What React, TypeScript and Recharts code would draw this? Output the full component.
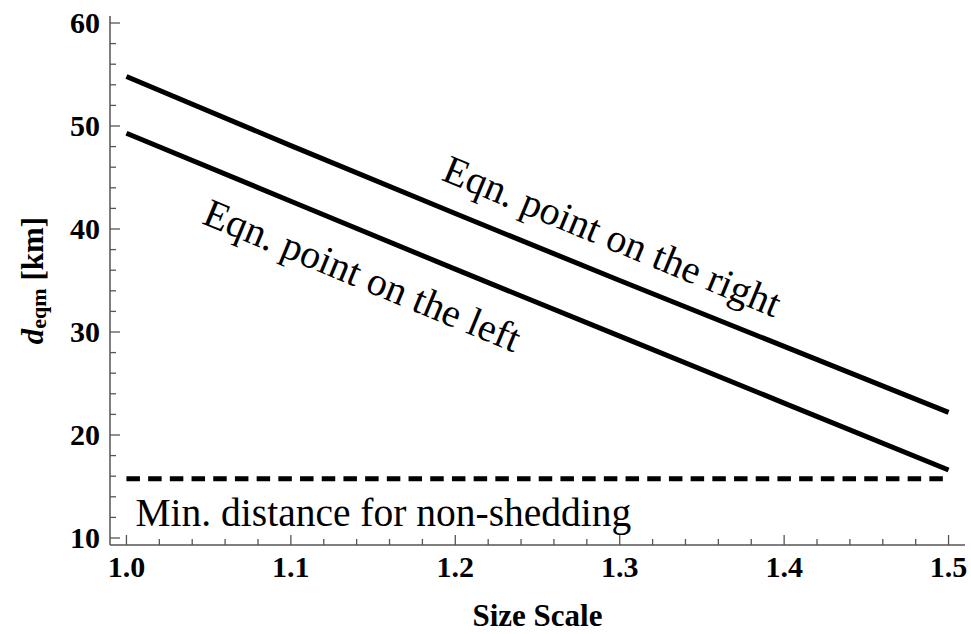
import React from 'react'
import {
  ComposedChart,
  Line,
  XAxis,
  YAxis,
  ReferenceDot,
} from 'recharts'

const sizeScale = [1.0, 1.1, 1.2, 1.3, 1.4, 1.5]
const eqmRight = [54.8, 48.1, 41.5, 35.0, 28.6, 22.2]
const eqmLeft = [49.3, 42.7, 36.1, 29.6, 23.1, 16.6]
const minDistance = [15.75, 15.75, 15.75, 15.75, 15.75, 15.75]

const xTicks = [
  1.0, 1.02, 1.04, 1.06, 1.08, 1.1, 1.12, 1.14, 1.16, 1.18, 1.2, 1.22, 1.24, 1.26, 1.28,
  1.3, 1.32, 1.34, 1.36, 1.38, 1.4, 1.42, 1.44, 1.46, 1.48, 1.5,
]
const yTicks = [
  10, 12, 14, 16, 18, 20, 22, 24, 26, 28, 30, 32, 34, 36, 38, 40, 42, 44, 46, 48, 50, 52,
  54, 56, 58, 60,
]

const data = sizeScale.map((s, i) => ({
  size: s,
  right: eqmRight[i],
  left: eqmLeft[i],
  min: minDistance[i],
}))

const SERIF = "'Liberation Serif', 'Times New Roman', Times, 'DejaVu Serif', serif"
const FRAME = '#555'

const isMajor = (v: number, step: number) =>
  Math.abs(v / step - Math.round(v / step)) < 1e-6

const XTick = ({ x, y, payload, side }: any) => {
  const v = payload.value as number
  const major = isMajor(v, 0.1)
  const len = major ? 10 : 6
  const dir = side === 'bottom' ? -1 : 1
  return (
    <g>
      <line x1={x} y1={y} x2={x} y2={y + dir * len} stroke={FRAME} strokeWidth={1.3} />
      {side === 'bottom' && major && (
        <text
          x={x}
          y={y + 32}
          textAnchor="middle"
          style={{ fontFamily: SERIF, fontWeight: 'bold', fontSize: 30 }}
          fill="#000"
        >
          {v.toFixed(1)}
        </text>
      )}
    </g>
  )
}

const YTick = ({ x, y, payload, side }: any) => {
  const v = payload.value as number
  const major = isMajor(v, 10)
  const len = major ? 10 : 6
  const dir = side === 'left' ? 1 : -1
  return (
    <g>
      <line x1={x} y1={y} x2={x + dir * len} y2={y} stroke={FRAME} strokeWidth={1.3} />
      {side === 'left' && major && (
        <text
          x={x - 10}
          y={y + 10}
          textAnchor="end"
          style={{ fontFamily: SERIF, fontWeight: 'bold', fontSize: 30 }}
          fill="#000"
        >
          {v}
        </text>
      )}
    </g>
  )
}

const RotatedLabel = ({ viewBox, text, rot }: any) => {
  const cx = viewBox.x + viewBox.width / 2
  const cy = viewBox.y + viewBox.height / 2
  return (
    <g transform={`rotate(${rot}, ${cx}, ${cy})`}>
      <text
        x={cx}
        y={cy}
        textAnchor="middle"
        dominantBaseline="central"
        style={{ fontFamily: SERIF, fontSize: 40 }}
        fill="#000"
      >
        {text}
      </text>
    </g>
  )
}

const PlainLabel = ({ viewBox, text }: any) => (
  <text
    x={viewBox.x}
    y={viewBox.y}
    textAnchor="start"
    style={{ fontFamily: SERIF, fontSize: 39.5 }}
    fill="#000"
  >
    {text}
  </text>
)

const YLabel = ({ viewBox }: any) => {
  const cx = viewBox.x + 22
  const cy = viewBox.y + viewBox.height / 2
  return (
    <g transform={`rotate(-90, ${cx}, ${cy})`}>
      <text
        x={cx}
        y={cy}
        textAnchor="middle"
        dominantBaseline="central"
        style={{ fontFamily: SERIF, fontWeight: 'bold', fontSize: 31 }}
        fill="#000"
      >
        <tspan style={{ fontStyle: 'italic' }}>d</tspan>
        <tspan style={{ fontSize: 22 }} dy={6}>eqm</tspan>
        <tspan dy={-6}> [km]</tspan>
      </text>
    </g>
  )
}

const XLabel = ({ viewBox }: any) => (
  <text
    x={viewBox.x + viewBox.width / 2}
    y={viewBox.y + 81}
    textAnchor="middle"
    style={{ fontFamily: SERIF, fontWeight: 'bold', fontSize: 31 }}
    fill="#000"
  >
    Size Scale
  </text>
)

export default function App() {
  return (
    <div style={{ position: 'absolute', left: 0, top: 0, background: '#fff' }}>
      <ComposedChart
        width={971}
        height={634}
        data={data}
        margin={{ top: 16, right: 6, left: 10, bottom: 0 }}
      >
        <XAxis
          xAxisId="b"
          dataKey="size"
          type="number"
          domain={[0.99, 1.51]}
          allowDataOverflow
          ticks={xTicks}
          interval={0}
          height={89}
          tickSize={0}
          tickMargin={0}
          tickLine={false}
          axisLine={{ stroke: FRAME, strokeWidth: 1.5 }}
          tick={<XTick side="bottom" />}
          label={<XLabel />}
        />
        <XAxis
          xAxisId="t"
          orientation="top"
          dataKey="size"
          type="number"
          domain={[0.99, 1.51]}
          allowDataOverflow
          ticks={xTicks}
          interval={0}
          height={0}
          tickSize={0}
          tickMargin={0}
          tickLine={false}
          axisLine={{ stroke: FRAME, strokeWidth: 1.5 }}
          tick={<XTick side="top" />}
        />
        <YAxis
          yAxisId="l"
          type="number"
          domain={[9.32, 60.68]}
          allowDataOverflow
          ticks={yTicks}
          interval={0}
          width={100}
          tickSize={0}
          tickMargin={0}
          tickLine={false}
          axisLine={{ stroke: FRAME, strokeWidth: 1.5 }}
          tick={<YTick side="left" />}
          label={<YLabel />}
        />
        <YAxis
          yAxisId="r"
          orientation="right"
          type="number"
          domain={[9.32, 60.68]}
          allowDataOverflow
          ticks={yTicks}
          interval={0}
          width={0}
          tickSize={0}
          tickMargin={0}
          tickLine={false}
          axisLine={{ stroke: FRAME, strokeWidth: 1.5 }}
          tick={<YTick side="right" />}
        />
        <Line
          xAxisId="b"
          yAxisId="l"
          dataKey="right"
          type="linear"
          stroke="#000"
          strokeWidth={5}
          dot={false}
          isAnimationActive={false}
        />
        <Line
          xAxisId="b"
          yAxisId="l"
          dataKey="left"
          type="linear"
          stroke="#000"
          strokeWidth={5}
          dot={false}
          isAnimationActive={false}
        />
        <Line
          xAxisId="b"
          yAxisId="l"
          dataKey="min"
          type="linear"
          stroke="#000"
          strokeWidth={5}
          strokeDasharray="13.5 8.2"
          dot={false}
          isAnimationActive={false}
        />
        <ReferenceDot
          xAxisId="b"
          yAxisId="l"
          x={1.2955}
          y={39.3}
          r={0}
          fill="none"
          stroke="none"
          label={<RotatedLabel text="Eqn. point on the right" rot={22.5} />}
        />
        <ReferenceDot
          xAxisId="b"
          yAxisId="l"
          x={1.1435}
          y={35.5}
          r={0}
          fill="none"
          stroke="none"
          label={<RotatedLabel text="Eqn. point on the left" rot={22.5} />}
        />
        <ReferenceDot
          xAxisId="b"
          yAxisId="l"
          x={1.0055}
          y={11.2}
          r={0}
          fill="none"
          stroke="none"
          label={<PlainLabel text="Min. distance for non-shedding" />}
        />
      </ComposedChart>
    </div>
  )
}
